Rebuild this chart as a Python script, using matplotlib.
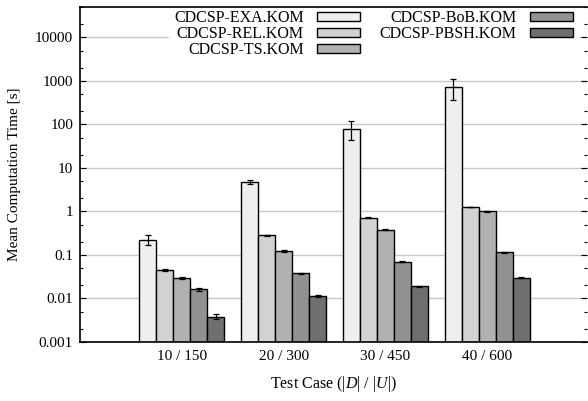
import numpy as np
import matplotlib
matplotlib.use("Agg")
import matplotlib.pyplot as plt
from matplotlib.ticker import LogLocator, NullFormatter

plt.rcParams["font.family"] = ["Liberation Serif", "DejaVu Serif"]
plt.rcParams["mathtext.fontset"] = "custom"
plt.rcParams["mathtext.it"] = "Liberation Serif:italic"
plt.rcParams["mathtext.rm"] = "Liberation Serif"

# data
cases = ["10 / 150", "20 / 300", "30 / 450", "40 / 600"]
series = ["CDCSP-EXA.KOM", "CDCSP-REL.KOM", "CDCSP-TS.KOM", "CDCSP-BoB.KOM", "CDCSP-PBSH.KOM"]
exa  = [0.226, 4.8, 80.0, 720.0]
rel  = [0.0448, 0.284, 0.71, 1.27]
ts   = [0.0289, 0.122, 0.385, 1.0]
bob  = [0.0162, 0.0377, 0.0695, 0.114]
pbsh = [0.0038, 0.0114, 0.0189, 0.0298]
exa_err  = [0.06, 0.6, 37.0, 360.0]
rel_err  = [0.002, 0.008, 0.02, 0.03]
ts_err   = [0.0015, 0.005, 0.015, 0.03]
bob_err  = [0.001, 0.001, 0.002, 0.003]
pbsh_err = [0.0005, 0.0006, 0.0007, 0.001]
colors = ["#efefef", "#d2d2d2", "#b1b1b1", "#919191", "#6f6f6f"]

values = [exa, rel, ts, bob, pbsh]
errors = [exa_err, rel_err, ts_err, bob_err, pbsh_err]

fig = plt.figure(figsize=(5.88, 4.01), dpi=100)
ax = fig.add_axes([80 / 588, 59 / 401, 507 / 588, 335 / 401])

x = np.arange(len(cases))
w = 0.167
for i, (name, vals, errs, col) in enumerate(zip(series, values, errors, colors)):
    ax.bar(x + (i - 2) * w, vals, w, color=col, edgecolor="black", linewidth=1.0,
           label=name, zorder=3,
           yerr=errs, error_kw=dict(ecolor="black", elinewidth=0.9, capsize=2.5, capthick=0.9))

ax.set_yscale("log")
ax.set_ylim(0.001, 50000)
ax.set_xlim(-1, 3.98)
ax.set_yticks([0.001, 0.01, 0.1, 1, 10, 100, 1000, 10000])
ax.set_yticklabels(["0.001", "0.01", "0.1", "1", "10", "100", "1000", "10000"])
ax.yaxis.set_minor_locator(LogLocator(base=10, subs=(2.0, 5.0)))
ax.yaxis.set_minor_formatter(NullFormatter())
ax.set_xticks(x)
ax.set_xticklabels(cases)
ax.tick_params(axis="x", length=0, labelsize=11, pad=6)
ax.tick_params(axis="y", which="major", direction="in", length=4, width=0.8,
               right=True, labelsize=11, pad=5)
ax.tick_params(axis="y", which="minor", direction="in", length=2.5, width=0.8, right=True)
ax.grid(axis="y", which="major", color="#c8c8c8", linewidth=1.0, zorder=0)
for s in ["left", "bottom", "top"]:
    ax.spines[s].set_linewidth(1.2)
    ax.spines[s].set_zorder(6)
ax.spines["right"].set_visible(False)

ax.set_ylabel("Mean Computation Time [s]", fontsize=11, labelpad=10)
ax.set_xlabel(r"Test Case ($|D|$ / $|U|$)", fontsize=11.5, labelpad=8)

leg = ax.legend(ncol=2, loc="upper right", bbox_to_anchor=(0.998, 1.03), frameon=True,
                markerfirst=False, fontsize=11.5, handlelength=2.7, handleheight=0.5,
                labelspacing=0.0, columnspacing=1.2, handletextpad=0.85,
                borderpad=0.3, fancybox=False)
leg.get_frame().set_edgecolor("white")
leg.get_frame().set_facecolor("white")
leg.get_frame().set_alpha(1)
for t in leg.get_texts():
    t.set_ha("right")
leg.set_zorder(5)

fig.savefig("out.png", dpi=100)
